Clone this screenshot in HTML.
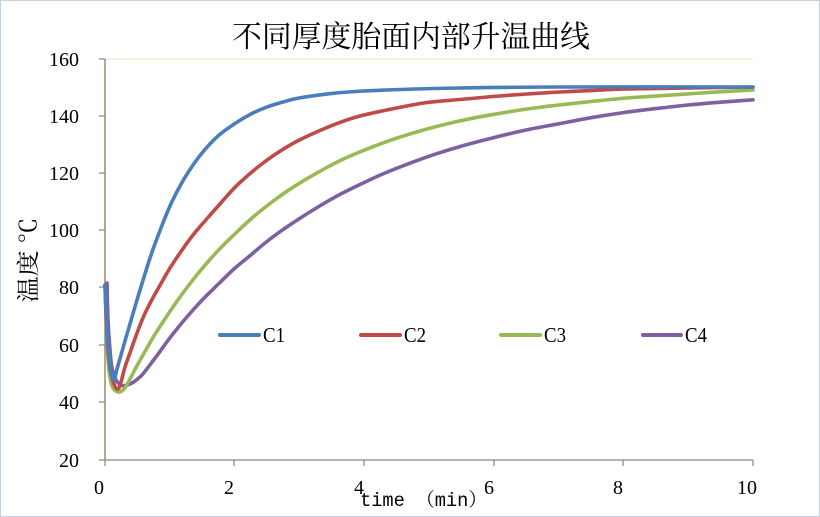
<!DOCTYPE html>
<html><head><meta charset="utf-8"><style>
html,body{margin:0;padding:0;background:#fff;}
svg{display:block;}
</style></head><body>
<svg id="chart" width="820" height="517" viewBox="0 0 820 517" xmlns="http://www.w3.org/2000/svg">
<defs>
<linearGradient id="og" x1="0" y1="0" x2="0" y2="1">
<stop offset="0" stop-color="#f6e2c8"/>
<stop offset="0.45" stop-color="#f0a878"/>
<stop offset="0.65" stop-color="#f3cfa0"/>
<stop offset="1" stop-color="#f7e6e4"/>
</linearGradient>
</defs>
<rect x="0.5" y="0.5" width="819" height="516" fill="#fff" stroke="#c3d1e1" stroke-width="1"/>
<text x="232" y="47" font-family="'Noto Serif CJK SC','Liberation Serif',serif" font-size="30" textLength="358" lengthAdjust="spacingAndGlyphs" fill="#000">不同厚度胎面内部升温曲线</text>

<line x1="105" y1="59" x2="753" y2="59" stroke="#f3e8d4" stroke-width="1.5"/>
<line x1="105" y1="59" x2="105" y2="460" stroke="#9a8c6c" stroke-width="1.5"/>
<line x1="105" y1="460" x2="753" y2="460" stroke="#868686" stroke-width="1.2"/>
<g stroke="#868686" stroke-width="1.2">
<line x1="99" y1="59" x2="105" y2="59"/>
<line x1="99" y1="116" x2="105" y2="116"/>
<line x1="99" y1="173" x2="105" y2="173"/>
<line x1="99" y1="230" x2="105" y2="230"/>
<line x1="99" y1="287" x2="105" y2="287"/>
<line x1="99" y1="345" x2="105" y2="345"/>
<line x1="99" y1="402" x2="105" y2="402"/>
<line x1="99" y1="460" x2="105" y2="460"/>
<line x1="105" y1="460" x2="105" y2="466"/>
<line x1="234" y1="460" x2="234" y2="466"/>
<line x1="364" y1="460" x2="364" y2="466"/>
<line x1="494" y1="460" x2="494" y2="466"/>
<line x1="623" y1="460" x2="623" y2="466"/>
<line x1="753" y1="460" x2="753" y2="466"/>
</g>

<g font-family="'Liberation Serif',serif" font-size="20" fill="#000" text-anchor="end">
<text x="79" y="66">160</text>
<text x="79" y="123">140</text>
<text x="79" y="180">120</text>
<text x="79" y="237">100</text>
<text x="79" y="294">80</text>
<text x="79" y="352">60</text>
<text x="79" y="409">40</text>
<text x="79" y="467">20</text>
</g>
<g font-family="'Liberation Serif',serif" font-size="20" fill="#000" text-anchor="middle">
<text x="99" y="494">0</text>
<text x="229" y="494">2</text>
<text x="359" y="494">4</text>
<text x="489" y="494">6</text>
<text x="618" y="494">8</text>
<text x="747" y="494">10</text>
</g>
<text x="360" y="506" font-family="'Liberation Mono','Noto Serif CJK SC',monospace" font-size="19" textLength="127" lengthAdjust="spacingAndGlyphs" fill="#000">time （min）</text>
<text transform="translate(36,260) rotate(-90)" text-anchor="middle" font-family="'Liberation Serif','Noto Serif CJK SC',serif" font-size="23" textLength="85" lengthAdjust="spacingAndGlyphs" fill="#000">温度 ℃</text>

<g fill="none" stroke-width="3.6" stroke-linejoin="round" stroke-linecap="round">
<polyline class="s" stroke="#7d60a0" points="107,283 108,320 110,350 112,368 116,380 122,385.5 127,385 132,383 137,379.5 142,375 148,367.5 154,359.5 160,351.5 169.8,338 186,318 202.2,300 218.4,284 234.6,268.4 250.8,255 265,243 280,231.7 299.4,218.6 318.8,206.5 338.3,195.3 360,184.5 383.6,173.6 409.6,163.3 435.5,154.1 461.4,146.1 493.8,137.6 526,130 558.6,123.8 591,117.7 623.4,112.6 655.8,108.6 688.2,105 720.6,102.2 753,99.8"/>
<polyline class="s" stroke="#98b954" points="105,285 107,340 109,370 112,386 118,392 124,389 130,379 137.4,365 145,351.5 153.6,336.6 163.3,321.4 176.3,302.2 189.2,284.7 205.4,264.7 221.6,246.9 238,230.9 254,216.3 270,203.5 286.4,191.6 302.6,181.3 318.8,171.9 335,163.2 351.2,155.5 383.6,142.7 416,132.1 454.9,122 493.8,114.3 539,107.4 584.5,102.2 627,98 675,94.8 714,92.2 753,90"/>
<polyline class="s" stroke="#be4b48" points="105,285 107,335 110,368 114,384 118,389 121,382 125,367 131,350 137,333 144,315.5 152,299.5 161,283.5 170,268 181,251.5 193,235 208,217.5 223,200.5 234.6,187.7 247.6,175.6 260.5,165 273.5,155.5 286.4,147.2 299.4,140 318.8,131 338.3,123.1 360,116 396.6,108 427,102.5 460,99.5 493,96.5 527,94 560,92 593,90.5 627,89 690,88 753,87"/>
<polyline class="s" stroke="#4a7ebb" points="105,285 107,330 109,355 111,372 114,380 117,369 122,351.5 127,334 137,300 150,258 160,230.5 170,206 180,186 189,171 202,153 218,136 235,123.5 251,114 267,107 283,102 299,98 332,93.4 364,91 400,89.5 460,88 560,87 753,87"/>
</g>
<line x1="753" y1="87" x2="753" y2="460" stroke="url(#og)" stroke-width="2"/>

<g stroke-width="4" stroke-linecap="round">
<line x1="220" y1="335" x2="259" y2="335" stroke="#4a7ebb"/>
<line x1="361" y1="335" x2="400" y2="335" stroke="#be4b48"/>
<line x1="501" y1="335" x2="540" y2="335" stroke="#98b954"/>
<line x1="643" y1="335" x2="681" y2="335" stroke="#7d60a0"/>
</g>
<g font-family="'Liberation Serif',serif" font-size="21" fill="#000">
<text x="263" y="342" textLength="22" lengthAdjust="spacingAndGlyphs">C1</text>
<text x="404" y="342" textLength="22" lengthAdjust="spacingAndGlyphs">C2</text>
<text x="544" y="342" textLength="22" lengthAdjust="spacingAndGlyphs">C3</text>
<text x="685" y="342" textLength="22" lengthAdjust="spacingAndGlyphs">C4</text>
</g>
</svg>
<script>
(function(){
  var NS="http://www.w3.org/2000/svg";
  var pls=document.querySelectorAll("polyline.s");
  for(var k=0;k<pls.length;k++){
    var pl=pls[k];
    var raw=pl.getAttribute("points").trim().split(/\s+/);
    var p=raw.map(function(s){var a=s.split(",");return [parseFloat(a[0]),parseFloat(a[1])];});
    var n=p.length;
    var d="M"+p[0][0]+","+p[0][1];
    for(var i=0;i<n-1;i++){
      var p0=p[Math.max(i-1,0)],p1=p[i],p2=p[i+1],p3=p[Math.min(i+2,n-1)];
      var c1x=p1[0]+(p2[0]-p0[0])/6,c1y=p1[1]+(p2[1]-p0[1])/6;
      var c2x=p2[0]-(p3[0]-p1[0])/6,c2y=p2[1]-(p3[1]-p1[1])/6;
      d+=" C"+c1x.toFixed(2)+","+c1y.toFixed(2)+" "+c2x.toFixed(2)+","+c2y.toFixed(2)+" "+p2[0]+","+p2[1];
    }
    var path=document.createElementNS(NS,"path");
    path.setAttribute("d",d);
    path.setAttribute("stroke",pl.getAttribute("stroke"));
    pl.parentNode.replaceChild(path,pl);
  }
})();
</script>
</body></html>
